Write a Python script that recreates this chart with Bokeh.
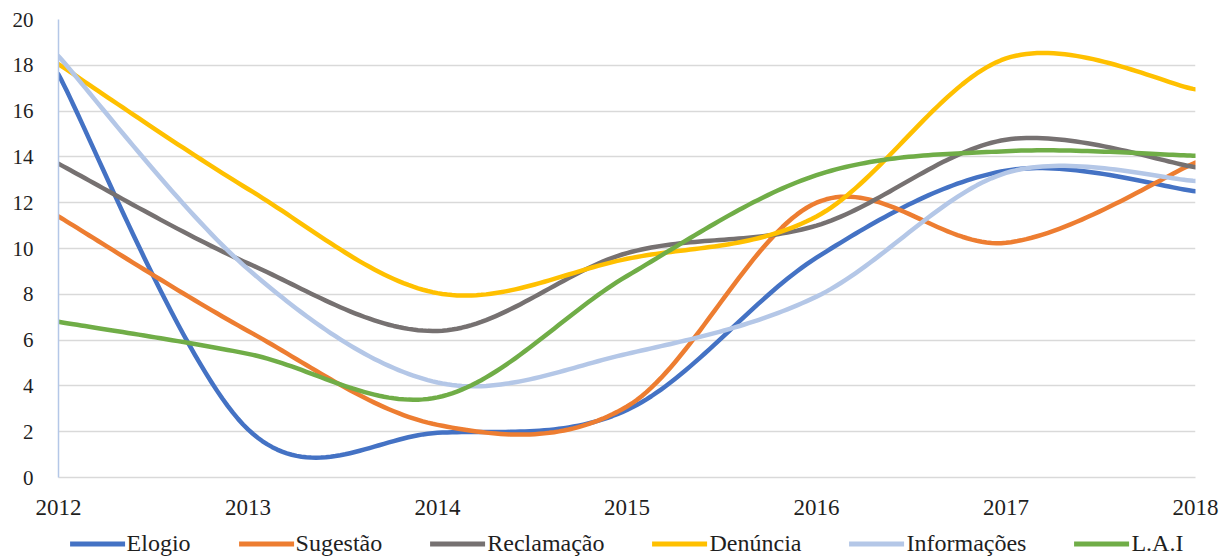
import numpy as np
from bokeh.plotting import figure
from bokeh.layouts import column
from bokeh.models import Range1d, FixedTicker, Legend, LegendItem
from bokeh.embed import file_html
from bokeh.resources import INLINE

years = [2012, 2013, 2014, 2015, 2016, 2017, 2018]
elogio = [17.6, 2.1, 1.95, 2.95, 9.6, 13.4, 12.5]
sugestao = [11.4, 6.4, 2.3, 3.1, 12.0, 10.25, 13.75]
reclamacao = [13.7, 9.35, 6.4, 9.8, 11.0, 14.75, 13.55]
denuncia = [18.05, 12.6, 8.05, 9.55, 11.4, 18.3, 16.95]
informacoes = [18.4, 9.1, 4.15, 5.4, 7.9, 13.3, 12.95]
lai = [6.8, 5.4, 3.5, 8.8, 13.2, 14.25, 14.05]

series_names = ["Elogio", "Sugestão", "Reclamação", "Denúncia", "Informações", "L.A.I"]
series_values = [elogio, sugestao, reclamacao, denuncia, informacoes, lai]
series_colors = ["#4472C4", "#ED7D31", "#767171", "#FFC000", "#B4C7E7", "#70AD47"]
y_ticks = list(range(0, 21, 2))

FONT = "'Liberation Serif', 'Times New Roman', serif"


def smooth(xs, ys, n=40):
    """Excel-style smoothed line (cubic Bezier, Catmull-Rom control points)."""
    pts = np.column_stack([np.asarray(xs, float), np.asarray(ys, float)])
    m = len(pts)
    t = np.linspace(0, 1, n)[:, None]
    out = []
    for i in range(m - 1):
        p0 = pts[max(i - 1, 0)]
        p1 = pts[i]
        p2 = pts[i + 1]
        p3 = pts[min(i + 2, m - 1)]
        c1 = p1 + (p2 - p0) / 6.0
        c2 = p2 - (p3 - p1) / 6.0
        seg = ((1 - t) ** 3) * p1 + 3 * ((1 - t) ** 2) * t * c1 + 3 * (1 - t) * t ** 2 * c2 + t ** 3 * p2
        if i > 0:
            seg = seg[1:]
        out.append(seg)
    arr = np.vstack(out)
    return arr[:, 0], arr[:, 1]


p = figure(width=1228, height=529, output_backend="svg", toolbar_location=None,
           x_range=Range1d(2012, 2018), y_range=Range1d(0, 20),
           min_border_left=58, min_border_right=33, min_border_top=19, min_border_bottom=52)
p.outline_line_color = None
p.background_fill_color = "white"
p.border_fill_color = "white"

p.xgrid.grid_line_color = None
p.ygrid.grid_line_color = "#D9D9D9"
p.ygrid.grid_line_width = 1.5
p.ygrid.ticker = FixedTicker(ticks=y_ticks)

p.xaxis.ticker = FixedTicker(ticks=years)
p.yaxis.ticker = FixedTicker(ticks=y_ticks)
for ax in (p.xaxis[0], p.yaxis[0]):
    ax.major_tick_line_color = None
    ax.minor_tick_line_color = None
    ax.major_tick_out = 0
    ax.major_tick_in = 0
    ax.major_label_text_font = FONT
    ax.major_label_text_color = "#1F1F1F"
p.xaxis.major_label_text_font_size = "23px"
p.yaxis.major_label_text_font_size = "21px"
p.xaxis.major_label_standoff = 22
p.yaxis.major_label_standoff = 25
p.xaxis.axis_line_color = "#D9D9D9"
p.xaxis.axis_line_width = 1.5
p.yaxis.axis_line_color = "#B4C7E7"
p.yaxis.axis_line_width = 1.5

for vals, col in zip(series_values, series_colors):
    sx, sy = smooth(years, vals)
    p.line(sx, sy, line_color=col, line_width=4.5, line_cap="round", line_join="round")

# legend strip below the chart (its lines carry no data, only the legend swatches)
lg = figure(width=1228, height=28, output_backend="svg", toolbar_location=None,
            x_range=Range1d(0, 1), y_range=Range1d(0, 1),
            min_border_left=0, min_border_right=0, min_border_top=0, min_border_bottom=0)
lg.axis.visible = False
lg.grid.visible = False
lg.outline_line_color = None
items = []
for name, col in zip(series_names, series_colors):
    r = lg.line(x=[np.nan, np.nan], y=[np.nan, np.nan], line_color=col, line_width=5, line_cap="round")
    items.append(LegendItem(label=name, renderers=[r]))
legend = Legend(items=items, orientation="horizontal", location="center",
                label_text_font=FONT, label_text_font_size="24px", label_text_color="#1F1F1F",
                glyph_width=55, glyph_height=24, label_standoff=2, spacing=48,
                padding=0, margin=0, border_line_color=None, background_fill_alpha=0,
                label_height=24)
lg.add_layout(legend, "center")

layout = column(p, lg, spacing=0)
open("out.html", "w").write(file_html(layout, INLINE))
